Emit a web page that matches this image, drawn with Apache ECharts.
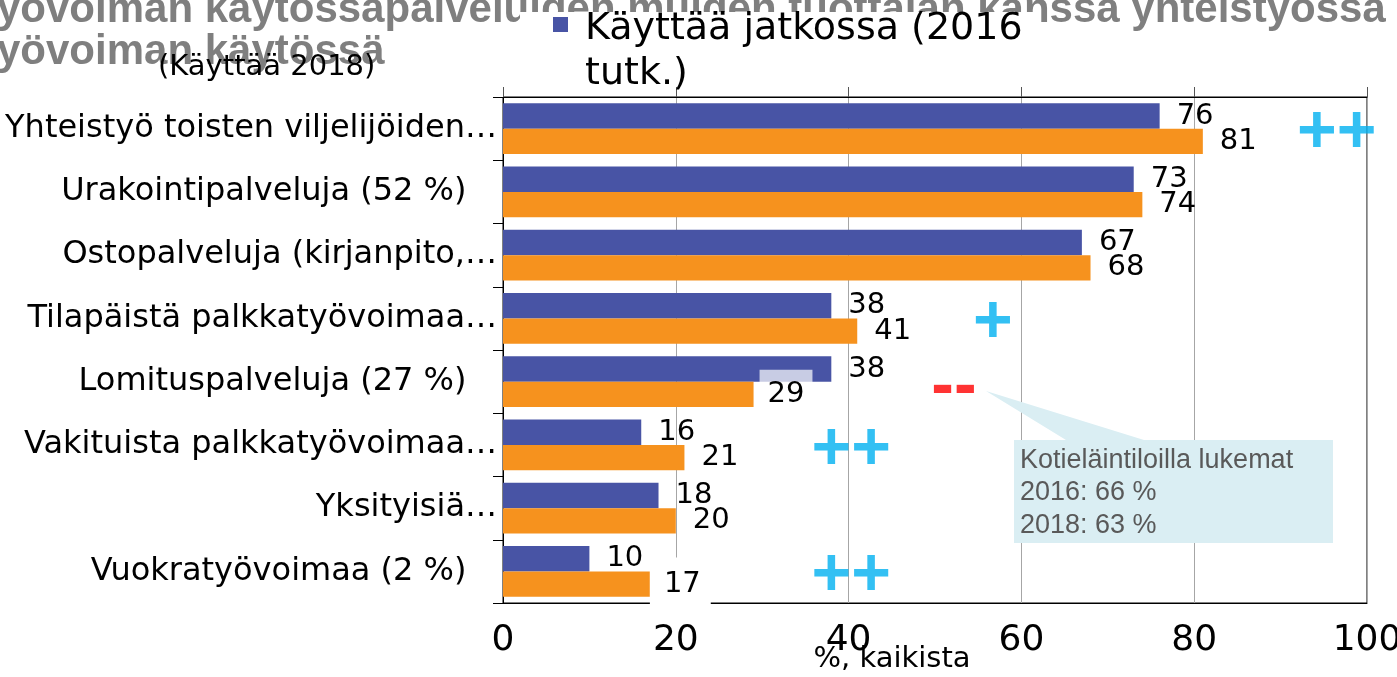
<!DOCTYPE html>
<html>
<head>
<meta charset="utf-8">
<script src="https://cdn.jsdelivr.net/npm/echarts@6/dist/echarts.min.js"></script>
<style>
  html, body { margin: 0; padding: 0; background: #fff; }
  #chart { width: 1397px; height: 677px; }
</style>
</head>
<body>
<div id="chart"></div>
<script>
// luokat (pitkät nimet katkaistu kuten alkuperäisessä)
const categories = [
  'Yhteistyö toisten viljelijöiden…',
  'Urakointipalveluja (52 %)   ',
  'Ostopalveluja (kirjanpito,…',
  'Tilapäistä palkkatyövoimaa…',
  'Lomituspalveluja (27 %)   ',
  'Vakituista palkkatyövoimaa…',
  'Yksityisiä…',
  'Vuokratyövoimaa (2 %)   '
];
const used2016 = [76, 73, 67, 38, 38, 16, 18, 10];
const used2018 = [81, 74, 68, 41, 29, 21, 20, 17];
// muutosmerkinnät rivikohtaisesti
const changeMarks = ['++', '', '', '+', '--', '++', '', '++'];
const calloutLines = ['Kotieläintiloilla lukemat', '2016: 66 %', '2018: 63 %'];

const name2016 = 'Käyttää jatkossa (2016\ntutk.)';
const name2018 = '(Käyttää 2018)';

// merkkien paikka x-akselilla (asettelu, ei dataa)
const markX = [96.5, 0, 0, 56.7, 52.2, 40.3, 0, 40.3];

let chart = echarts.init(document.getElementById('chart'));

const valueLabel = {
  show: true,
  position: 'right',
  distance: 17,
  color: '#000',
  fontSize: 29,
  fontFamily: 'DejaVu Sans'
};

let marks = [];
changeMarks.forEach((m, i) => {
  if (m !== '')
    marks.push({
      value: [markX[i], i],
      label: {
        formatter: m,
        color: m.indexOf('-') !== -1 ? '#ff0000' : '#00b0f0',
        offset: [0, m.indexOf('-') !== -1 ? 7 : 5]
      }
    });
});

// 2018-sarja, kahdella otsikkolaatikolla kuten alkuperäisessä
let data2018 = used2018.map((v, i) => {
  if (i === 4)
    return {value: v, label: {distance: 6, backgroundColor: 'rgba(255,255,255,0.7)', padding: [10, 8, 10, 8]}};
  if (i === 7)
    return {value: v, label: {distance: 0, backgroundColor: '#fff', padding: [12, 10, 12, 14]}};
  return v;
});

let option = {
  animation: false,
  title: {
    text: 'työvoiman käytössäpalveluiden muiden tuottajan kanssa yhteistyössä\ntyövoiman käytössä',
    left: -22,
    top: -16,
    z: 1,
    textStyle: {
      color: '#7f7f7f',
      fontSize: 42,
      fontWeight: 'bold',
      fontFamily: 'Liberation Sans',
      lineHeight: 42
    }
  },
  legend: [{
    data: [name2016],
    left: 553,
    top: 7,
    z: 10,
    padding: 0,
    // neliö ylärivin kohdalla
    icon: 'path://M0,0L15,0L15,15L0,15Z M0,70L0.001,70',
    itemWidth: 15,
    itemHeight: 70,
    selectedMode: false,
    textStyle: {
      fontSize: 38,
      fontFamily: 'DejaVu Sans',
      color: '#000',
      lineHeight: 45,
      padding: [0, 0, 0, 12]
    }
  }, {
    data: [{name: name2018, icon: 'none'}],
    left: 148,
    top: 48,
    z: 10,
    itemWidth: 0,
    itemHeight: 10,
    selectedMode: false,
    textStyle: {
      fontSize: 29,
      fontFamily: 'DejaVu Sans',
      color: '#000'
    }
  }],
  grid: {
    left: 503,
    right: 30,
    top: 97,
    bottom: 74,
    show: true,
    borderColor: '#000',
    borderWidth: 1,
    outerBoundsMode: 'none',
    containLabel: false
  },
  xAxis: [{
    type: 'value',
    min: 0,
    max: 100,
    interval: 20,
    position: 'bottom',
    axisLine: {show: true, lineStyle: {color: '#000'}},
    axisTick: {show: false},
    splitLine: {show: true, lineStyle: {color: '#a6a6a6', width: 1}},
    axisLabel: {
      margin: 20,
      color: '#000',
      fontSize: 36,
      fontFamily: 'DejaVu Sans'
    },
    name: '%, kaikista',
    nameLocation: 'middle',
    nameGap: 42,
    nameMoveOverlap: false,
    nameTextStyle: {
      color: '#000',
      fontSize: 29,
      fontFamily: 'DejaVu Sans',
      padding: [0, 86, 0, 0]
    }
  }, {
    type: 'value',
    min: 0,
    max: 100,
    interval: 20,
    position: 'top',
    axisLine: {show: true, lineStyle: {color: '#000'}},
    axisTick: {show: true, length: 10, lineStyle: {color: '#555'}},
    splitLine: {show: false},
    axisLabel: {show: false}
  }],
  yAxis: {
    type: 'category',
    data: categories,
    inverse: true,
    axisLine: {show: true, lineStyle: {color: '#000'}},
    axisTick: {show: true, length: 10, lineStyle: {color: '#000'}},
    axisLabel: {
      margin: 6,
      color: '#000',
      fontSize: 32,
      fontFamily: 'DejaVu Sans'
    }
  },
  series: [{
    name: name2016,
    type: 'bar',
    data: used2016,
    itemStyle: {color: '#4854a5'},
    barGap: '0%',
    barCategoryGap: '20%',
    label: valueLabel
  }, {
    name: name2018,
    type: 'bar',
    data: data2018,
    itemStyle: {color: '#f6921e'},
    barGap: '0%',
    barCategoryGap: '20%',
    label: valueLabel
  }, {
    name: 'muutos',
    type: 'scatter',
    symbolSize: 1,
    itemStyle: {color: 'rgba(0,0,0,0)'},
    z: 5,
    label: {
      show: true,
      position: 'inside',
      fontSize: 68,
      fontWeight: 'bold',
      fontFamily: 'Liberation Sans'
    },
    data: marks
  }],
  graphic: [{
    // legendan alle jäävä valkoinen alue, joka peittää otsikon
    type: 'rect',
    z: 5,
    shape: {x: 520, y: 12, width: 520, height: 70},
    style: {fill: '#fff'}
  }, {
    type: 'polygon',
    z: 20,
    shape: {
      points: [[1014, 440], [1066, 440], [986, 391], [1144, 440], [1333, 440], [1333, 543], [1014, 543]]
    },
    style: {fill: '#daeef3'}
  }, {
    type: 'text',
    z: 21,
    left: 1020,
    top: 444,
    style: {
      text: calloutLines.join('\n'),
      font: '27px "Liberation Sans"',
      fill: '#595959',
      lineHeight: 32.5
    }
  }]
};

chart.setOption(option);

window.onresize = () => {
  chart.resize();
};
</script>
</body>
</html>
